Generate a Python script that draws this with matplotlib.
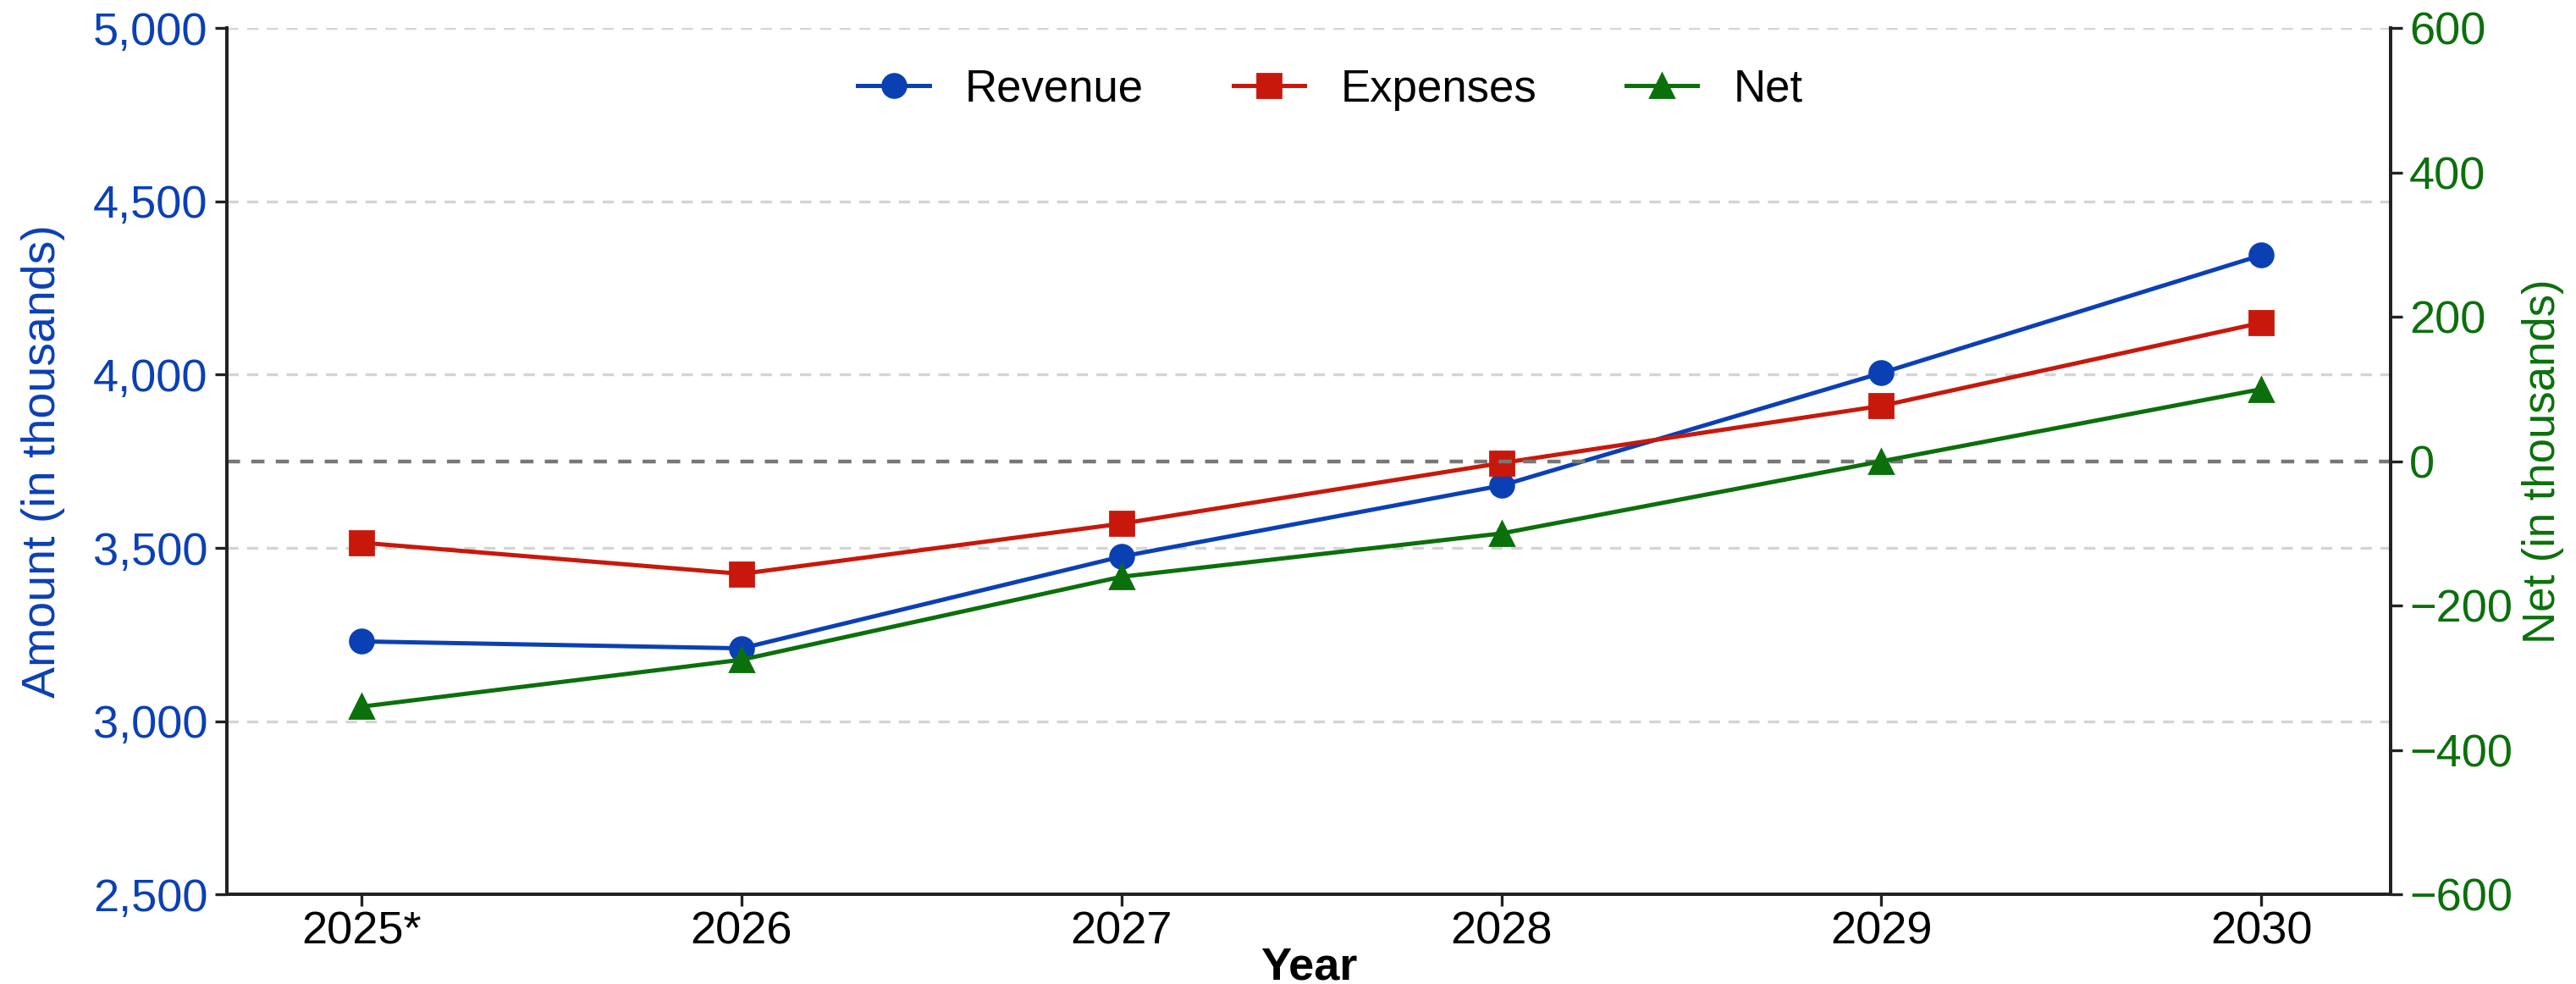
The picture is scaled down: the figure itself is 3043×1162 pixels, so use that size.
import matplotlib
matplotlib.use("Agg")
import matplotlib.pyplot as plt
from matplotlib.ticker import FuncFormatter

plt.rcParams['font.family'] = ['Liberation Sans', 'DejaVu Sans']

# ---- data ----
years = ["2025*", "2026", "2027", "2028", "2029", "2030"]
revenue = [3230, 3210, 3475, 3680, 4005, 4345]
expenses = [3515, 3425, 3570, 3745, 3910, 4150]
net = [-340, -275, -160, -100, 0, 100]

left_ticks = [2500, 3000, 3500, 4000, 4500, 5000]
right_ticks = [-600, -400, -200, 0, 200, 400, 600]

c_rev = '#0B40B5'
c_exp = '#C8180C'
c_net = '#0B700B'

fig = plt.figure(figsize=(15.215, 5.81), dpi=200)
ax1 = fig.add_axes([0.088, 0.0912, 0.840, 0.880])
ax2 = ax1.twinx()

x = list(range(len(years)))

ax1.set_ylim(2500, 5000)
ax1.set_yticks(left_ticks)
ax1.yaxis.set_major_formatter(FuncFormatter(lambda v, p: f"{int(v):,}"))
ax1.grid(axis='y', color='#d4d4d4', linestyle=(0, (4, 3)), linewidth=1.2)
ax1.set_axisbelow(True)

l1, = ax1.plot(x, revenue, color=c_rev, marker='o', markersize=10, linewidth=1.8, label='Revenue')
l2, = ax1.plot(x, expenses, color=c_exp, marker='s', markersize=10, linewidth=1.8, label='Expenses')

ax2.set_ylim(-600, 600)
ax2.set_yticks(right_ticks)
ax2.yaxis.set_major_formatter(FuncFormatter(lambda v, p: f"{int(v)}".replace('-', '\u2212')))
ax2.axhline(0, color='#777777', linestyle=(0, (3.5, 3)), linewidth=1.6, zorder=1)
l3, = ax2.plot(x, net, color=c_net, marker='^', markersize=10, linewidth=1.8, label='Net')

ax1.set_xlim(-0.355, 5.34)
ax1.set_xticks(x)
ax1.set_xticklabels(years)

for ax in (ax1, ax2):
    ax.spines['top'].set_visible(False)
    for s in ('left', 'right', 'bottom'):
        ax.spines[s].set_linewidth(1.4)
        ax.spines[s].set_color('#222222')
    ax.tick_params(axis='both', length=5, width=1.2, labelsize=19.5, color='#222222', pad=3)

ax1.tick_params(axis='y', labelcolor=c_rev)
ax2.tick_params(axis='y', labelcolor=c_net)
ax1.tick_params(axis='x', labelcolor='black', pad=2)

ax1.set_ylabel('Amount (in thousands)', color=c_rev, fontsize=20, labelpad=12)
ax2.set_ylabel('Net (in thousands)', color=c_net, fontsize=19, labelpad=4)
ax1.set_xlabel('Year', fontsize=19.5, fontweight='bold', labelpad=-3)

leg = ax2.legend(handles=[l1, l2, l3], loc='upper center', bbox_to_anchor=(0.51, 1.0),
                 ncol=3, frameon=False, fontsize=19, handlelength=1.6, columnspacing=2.0)

fig.savefig('out.png', dpi=200, facecolor='white')
